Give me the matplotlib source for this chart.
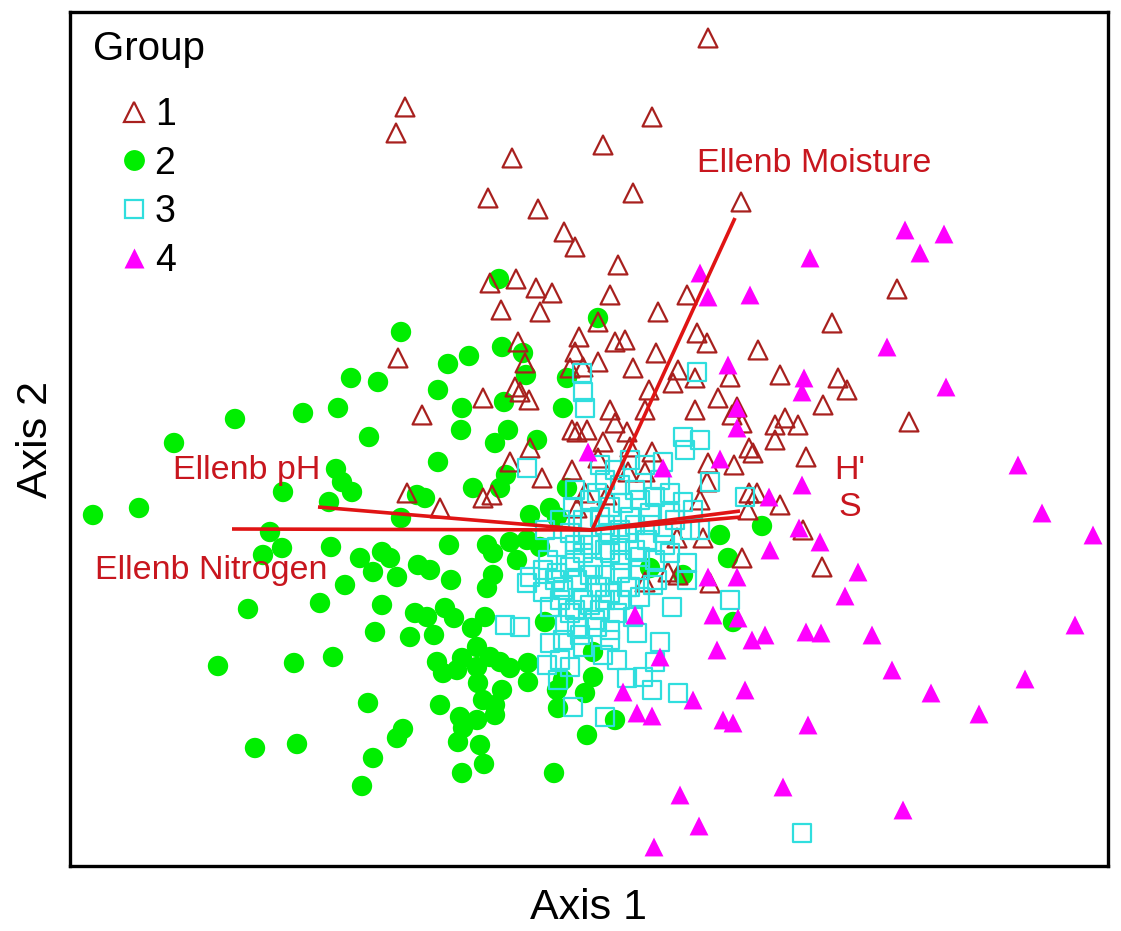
import numpy as np
import matplotlib.pyplot as plt
from matplotlib.lines import Line2D

plt.rcParams['font.family'] = ['Liberation Sans', 'DejaVu Sans']

# ordination scores (axis units, axis 2 grows downwards here)
g1_x = [405, 396, 512, 488, 538, 564, 575, 490, 516, 536, 552,
        708, 652, 603, 633, 741, 618, 610, 687, 897,
        501, 540, 398, 422, 483, 518, 525, 515, 520, 529, 579, 575, 583, 570,
        577, 572, 587, 530, 510, 542, 572, 585, 577, 407, 483, 492, 440,
        658, 598, 615, 625, 598, 633, 656, 697, 707, 678, 673, 695, 730, 758,
        780, 832, 838, 847, 823, 718, 695, 649, 645, 610, 615, 627, 603, 598,
        630, 652, 628, 645, 607, 732, 737, 742, 775, 785, 798, 775, 749, 753,
        806, 708, 734, 707, 700, 749, 757, 780, 748, 677, 703, 803, 742, 822,
        668, 678, 645, 710, 909]
g1_y = [107, 133, 158, 198, 209, 232, 247, 283, 279, 288, 293,
        38, 117, 145, 193, 202, 265, 295, 295, 289,
        310, 312, 358, 415, 398, 342, 363, 387, 392, 400, 337, 352, 367, 368,
        432, 430, 430, 448, 462, 478, 470, 493, 508, 493, 498, 495, 508,
        312, 322, 342, 340, 362, 368, 353, 333, 343, 370, 383, 378, 377, 350,
        375, 323, 378, 390, 405, 398, 410, 390, 410, 410, 423, 432, 442, 458,
        447, 452, 472, 472, 495, 415, 407, 423, 425, 418, 425, 440, 448, 453,
        457, 463, 465, 482, 500, 493, 493, 505, 510, 538, 538, 530, 558, 567,
        572, 575, 582, 583, 422]

g2_x = [499, 235, 174, 303, 93, 139, 283, 270, 282, 263,
        401, 351, 378, 338, 369, 448, 469, 438, 462, 461, 502, 523, 526, 504,
        508, 495, 537, 567, 563, 438, 336, 342, 352, 417, 425, 473, 506, 500,
        567, 530, 550, 557, 401, 329, 331, 449, 360, 382, 390, 373, 397, 418,
        430, 451, 345, 487, 493, 510, 527, 517, 540, 493, 487,
        598, 720, 762, 728, 650, 683,
        248, 320, 218, 294, 333, 255, 297,
        382, 375, 410, 415, 427, 434, 445, 454, 485, 472, 477, 437, 443, 457,
        462, 477, 490, 500, 510, 528, 528, 478, 502, 483, 495, 495, 368, 440,
        460, 477, 463, 403, 397, 458, 480, 373, 484, 462, 554, 362, 558, 557,
        563, 585, 587, 545, 733, 615, 593, 593]
g2_y = [279, 419, 443, 413, 515, 508, 492, 532, 548, 555,
        332, 378, 382, 408, 437, 364, 356, 390, 408, 430, 347, 353, 375, 402,
        430, 443, 440, 378, 408, 462, 469, 482, 492, 495, 498, 488, 475, 488,
        488, 515, 508, 517, 518, 502, 547, 545, 558, 552, 558, 572, 577, 565,
        570, 580, 585, 545, 553, 542, 540, 560, 547, 575, 588,
        318, 535, 526, 558, 568, 575,
        609, 603, 666, 663, 657, 748, 744,
        605, 632, 637, 613, 617, 635, 608, 618, 617, 628, 647, 662, 673, 670,
        658, 667, 657, 662, 668, 663, 682, 683, 690, 700, 705, 715, 703, 705,
        717, 720, 728, 729, 738, 742, 745, 758, 764, 773, 773, 786, 708, 690,
        680, 693, 735, 622, 622, 720, 652, 677]

g3_x = [527, 582, 583, 585, 573, 557, 697, 683, 700, 685, 663, 645, 710, 745,
        802, 672, 730, 660, 655, 617, 603, 637, 627, 643, 652, 678, 605, 505,
        520, 573, 560, 547, 558, 550,
        597, 610, 623, 640, 655, 670, 683, 693, 670, 650, 630, 600, 610, 627,
        647, 663, 690, 700, 640, 670, 687, 610, 593, 620, 657, 687, 600, 630,
        530, 543, 557, 570, 583, 577, 563, 583, 583, 570,
        527, 543, 550, 570, 583, 563, 577, 563, 583, 570, 653,
        597, 610, 627, 640, 600, 617, 633, 597, 610,
        590, 605, 620, 635, 575, 590, 605, 620, 635, 650, 575, 590, 605, 620,
        635, 655, 575, 590, 605, 620, 640, 560, 575, 590, 605, 620, 595, 610,
        580, 565, 555, 548, 545, 560, 600, 615, 630, 660, 675, 665]
g3_y = [468, 373, 392, 408, 507, 547, 372, 437, 440, 450, 462, 465, 482, 497,
        833, 607, 600, 642, 662, 660, 655, 633, 678, 677, 690, 693, 717, 625,
        627, 707, 660, 665, 680, 643,
        493, 507, 503, 500, 497, 493, 502, 510, 513, 513, 517, 517, 533, 533,
        540, 533, 530, 530, 557, 553, 563, 553, 567, 573, 580, 580, 587, 587,
        577, 570, 573, 567, 553, 580, 587, 540, 520, 533,
        583, 592, 607, 613, 600, 590, 627, 640, 647, 667, 585,
        587, 593, 587, 597, 610, 613, 617, 627, 630,
        500, 480, 485, 490, 490, 520, 525, 530, 525, 525, 545, 545, 550, 545,
        550, 560, 560, 575, 575, 560, 570, 600, 610, 605, 600, 600, 620, 640,
        635, 625, 580, 560, 530, 520, 465, 470, 460, 480, 520, 545]

g4_x = [810, 700, 708, 750, 905, 944, 920,
        728, 737, 737, 804, 802, 588, 663, 720, 769, 802, 799, 820, 770, 737,
        708, 887, 946, 1018, 1042, 1093, 858,
        713, 738, 752, 765, 717, 806, 821, 845, 660, 745, 623, 693, 637, 652,
        723, 733, 808, 783, 680, 699, 654, 635,
        1075, 872, 892, 931, 979, 1025, 903]
g4_y = [258, 273, 297, 295, 230, 234, 253,
        365, 408, 428, 378, 392, 452, 468, 459, 497, 485, 528, 542, 550, 577,
        577, 347, 387, 465, 513, 535, 572,
        615, 618, 640, 635, 650, 632, 633, 596, 657, 690, 692, 700, 713, 716,
        720, 723, 725, 787, 795, 826, 847, 615,
        625, 635, 670, 693, 714, 679, 810]

# environmental vectors (start -> tip)
vec_names = ['Ellenb Moisture', 'Ellenb pH', 'Ellenb Nitrogen', "H'", 'S']
vec_x0 = [592, 592, 592, 592, 592]
vec_y0 = [530, 530, 530, 530, 530]
vec_x1 = [735, 318, 232, 740, 741]
vec_y1 = [218, 507, 529, 511, 517]
lab_x = [697, 173, 95, 834, 838]
lab_y = [163, 470, 571, 470, 508]

red_line = '#e01414'
red_text = '#c8161e'

fig = plt.figure(figsize=(11.21, 9.31), dpi=100)
ax = fig.add_axes([70 / 1121, 65 / 931, 1038 / 1121, 854 / 931])

ax.scatter(g1_x, g1_y, marker='^', s=185, facecolors='none',
           edgecolors='#a8201e', linewidths=1.6, zorder=3)
ax.scatter(g2_x, g2_y, marker='o', s=215, color='#00ee00',
           edgecolors='none', zorder=2)
ax.scatter(g3_x, g3_y, marker='s', s=165, facecolors='none',
           edgecolors='#30dede', linewidths=1.6, zorder=3)
ax.scatter(g4_x, g4_y, marker='^', s=185, color='#ff00ff',
           edgecolors='none', zorder=3)

for i in range(len(vec_names)):
    ax.plot([vec_x0[i], vec_x1[i]], [vec_y0[i], vec_y1[i]],
            color=red_line, lw=2.6, solid_capstyle='butt', zorder=4)
    ax.text(lab_x[i], lab_y[i], vec_names[i], color=red_text, fontsize=24.5,
            ha='left', va='center', zorder=5)

ax.set_xlim(70, 1108)
ax.set_ylim(866, 12)
ax.set_xticks([])
ax.set_yticks([])
for sp in ax.spines.values():
    sp.set_linewidth(2.4)

ax.set_xlabel('Axis 1', fontsize=31, labelpad=16)
ax.set_ylabel('Axis 2', fontsize=31, labelpad=10)

# legend
ax.text(93, 49, 'Group', fontsize=29, ha='left', va='center')
handles = [
    Line2D([], [], ls='none', marker='^', ms=14, mfc='none', mec='#a8201e', mew=1.6),
    Line2D([], [], ls='none', marker='o', ms=15, mfc='#00ee00', mec='none'),
    Line2D([], [], ls='none', marker='s', ms=13, mfc='none', mec='#30dede', mew=1.6),
    Line2D([], [], ls='none', marker='^', ms=14, mfc='#ff00ff', mec='none'),
]
ax.legend(handles, ['1', '2', '3', '4'], loc='upper left',
          bbox_to_anchor=(34 / 1038, 1 - 66 / 854), frameon=False,
          fontsize=27, handlelength=0.6, handletextpad=0.25,
          labelspacing=0.34, borderpad=0)

fig.savefig('out.png', dpi=100)
